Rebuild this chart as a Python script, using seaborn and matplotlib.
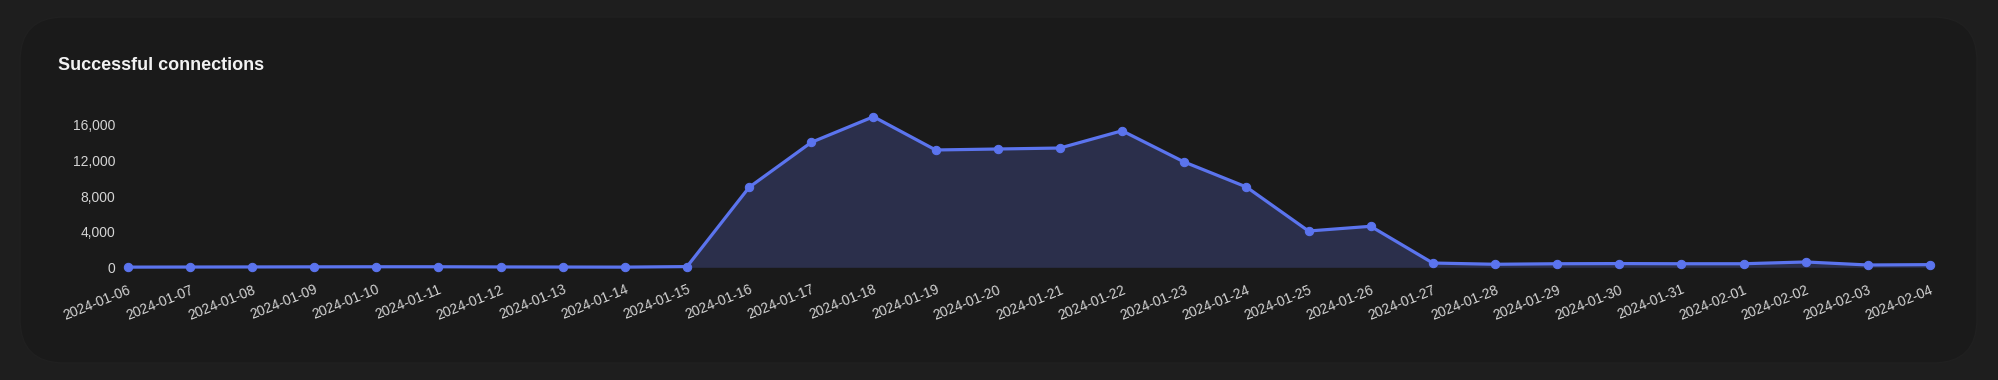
import numpy as np
import pandas as pd
import matplotlib
matplotlib.use('Agg')
import matplotlib.pyplot as plt
import matplotlib.dates as mdates
from matplotlib.patches import FancyBboxPatch
from matplotlib.ticker import FuncFormatter
import seaborn as sns

# data
dates = pd.date_range('2024-01-06', '2024-02-04', freq='D')
connections = [20, 30, 40, 50, 60, 60, 40, 30, 20, 80,
               9000, 14050, 16930, 13190, 13300, 13410, 15350, 11840, 9030, 4080,
               4610, 480, 340, 400, 420, 400, 400, 600, 260, 300]
y_ticks = [0, 4000, 8000, 12000, 16000]

df = pd.DataFrame({'date': dates, 'connections': connections})

LINE = '#5b74ee'
FILL = '#2b2f4b'
OUTER_BG = '#1e1e1e'
CARD_BG = '#1a1a1a'
TEXT = '#d4d4d4'

sns.set_theme(style='dark')
plt.rcParams['font.family'] = ['Liberation Sans', 'DejaVu Sans']

fig = plt.figure(figsize=(19.99, 3.8), dpi=100)
fig.patch.set_facecolor(OUTER_BG)

# rounded card behind the chart
W, H = 1999, 380
card = FancyBboxPatch((20 / W, 17 / H), (1977 - 20) / W, (363 - 17) / H,
                      boxstyle='round,pad=0,rounding_size=0.022',
                      transform=fig.transFigure, facecolor=CARD_BG,
                      edgecolor='#202020', linewidth=1, zorder=-5,
                      mutation_aspect=W / H)
fig.patches.append(card)

ax = fig.add_axes([127.7 / W, 1 - 267.3 / H, (1930 - 127.7) / W, (267.3 - 107.2) / H])
ax.set_zorder(2)
ax.set_facecolor(CARD_BG)
ax.patch.set_alpha(0)

ax.fill_between(df['date'], df['connections'], 0, color=FILL, linewidth=0, zorder=1)
sns.lineplot(data=df, x='date', y='connections', ax=ax, color=LINE, linewidth=2.3,
             marker='o', markersize=6, markeredgecolor=LINE, markerfacecolor=LINE,
             zorder=3, clip_on=False)

ax.set_xlim(dates[0], dates[-1])
ax.set_ylim(0, 18000)
ax.set_yticks(y_ticks)
ax.yaxis.set_major_formatter(FuncFormatter(lambda v, p: f'{int(v):,}'))
ax.set_xticks(dates)
ax.xaxis.set_major_formatter(mdates.DateFormatter('%Y-%m-%d'))
ax.tick_params(axis='y', colors=TEXT, labelsize=10, length=0, pad=9)
ax.tick_params(axis='x', colors=TEXT, labelsize=10, length=0, pad=11)
for lbl in ax.get_xticklabels():
    lbl.set_rotation(22)
    lbl.set_ha('right')
    lbl.set_rotation_mode('anchor')
ax.grid(False)
for s in ax.spines.values():
    s.set_visible(False)
ax.set_xlabel('')
ax.set_ylabel('')

fig.text(58 / W, 1 - 66 / H, 'Successful connections', color='#f2f2f2',
         fontsize=13, fontweight='bold', va='center', ha='left')

fig.savefig('out.png', dpi=100, facecolor=fig.get_facecolor())
